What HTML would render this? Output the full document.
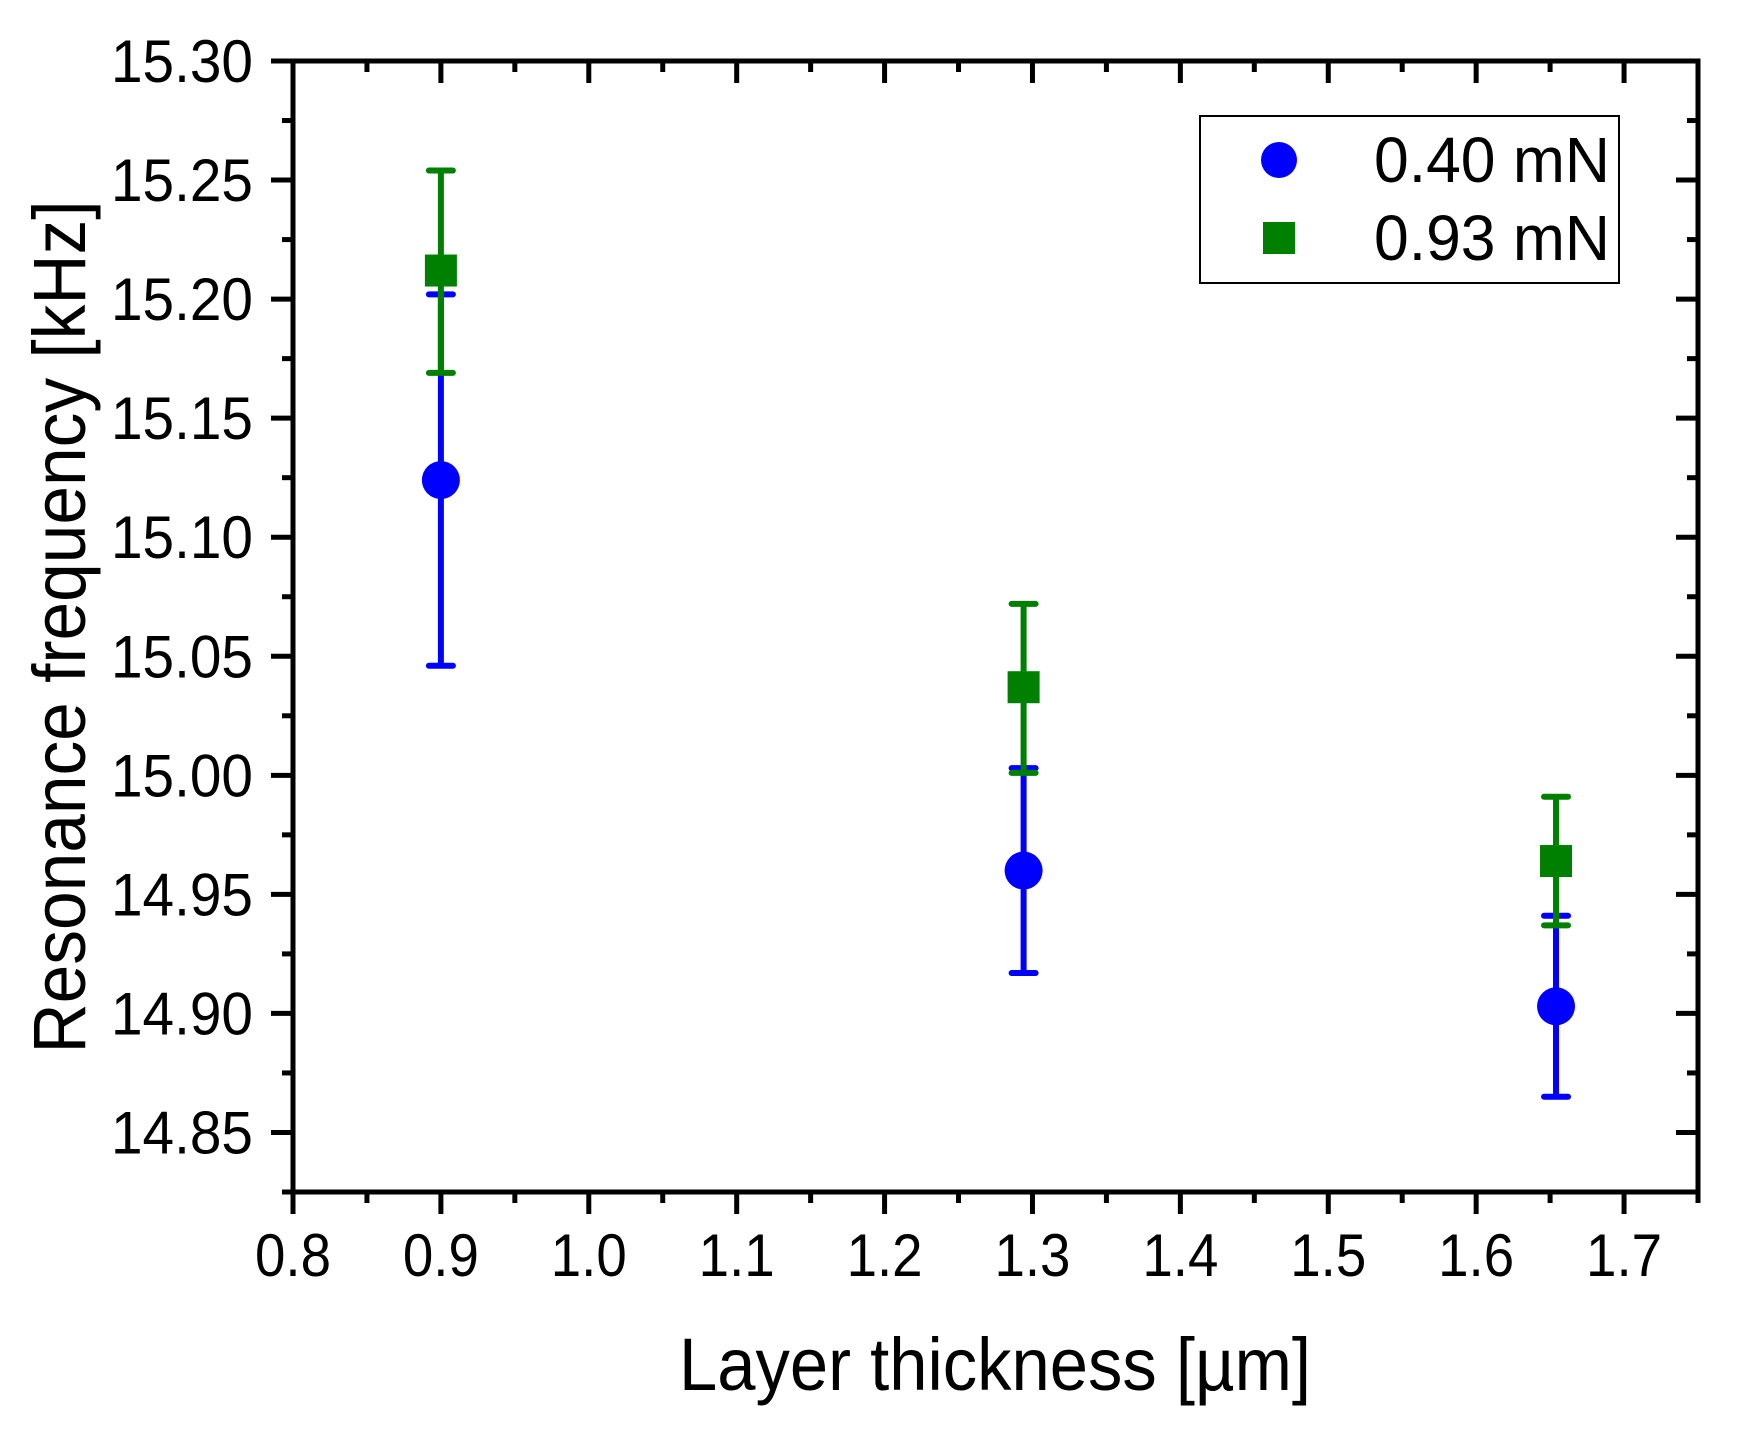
<!DOCTYPE html>
<html><head><meta charset="utf-8"><style>
html,body{margin:0;padding:0;background:#fff;}
svg{display:block;font-family:"Liberation Sans",Arial,sans-serif;}
</style></head><body>
<svg id="chart" width="1739" height="1437" viewBox="0 0 1739 1437" xmlns="http://www.w3.org/2000/svg">
<rect x="0" y="0" width="1739" height="1437" fill="#fff"/>
<g id="grid"></g>
<g id="marks"></g>
<text x="995" y="1390" font-size="74" text-anchor="middle" textLength="632" lengthAdjust="spacingAndGlyphs">Layer thickness [µm]</text>
<text transform="translate(85,627) rotate(-90)" font-size="74" text-anchor="middle" textLength="853" lengthAdjust="spacingAndGlyphs">Resonance frequency [kHz]</text>
<g>
<rect x="1200" y="116" width="419" height="167" fill="#fff" stroke="#000" stroke-width="2"/>
<circle cx="1279" cy="160" r="18" fill="#0000ff"/>
<text x="1374" y="182" font-size="64" textLength="236" lengthAdjust="spacingAndGlyphs">0.40 mN</text>
<rect x="1263" y="222" width="32" height="32" fill="#008000"/>
<text x="1374" y="260" font-size="64" textLength="236" lengthAdjust="spacingAndGlyphs">0.93 mN</text>
</g>
</svg>
<script>
const xCats = [0.9, 1.294, 1.654];
const blueVals = [15.124, 14.960, 14.903];
const blueHi = [15.202, 15.003, 14.941];
const blueLo = [15.046, 14.917, 14.865];
const greenVals = [15.212, 15.037, 14.964];
const greenHi = [15.254, 15.072, 14.991];
const greenLo = [15.169, 15.001, 14.937];
const xTicks = ["0.8","0.9","1.0","1.1","1.2","1.3","1.4","1.5","1.6","1.7"];
const yTicks = ["14.85","14.90","14.95","15.00","15.05","15.10","15.15","15.20","15.25","15.30"];

const X0=293, X1=1698, Y0=1192, Y1=61;
const xMin=0.8, xMax=1.75, yMin=14.825, yMax=15.30;
function sx(v){return X0+(v-xMin)/(xMax-xMin)*(X1-X0);}
function sy(v){return Y0-(v-yMin)/(yMax-yMin)*(Y0-Y1);}
const NS="http://www.w3.org/2000/svg";
function mk(tag,attrs,parent){const e=document.createElementNS(NS,tag);for(const k in attrs)e.setAttribute(k,attrs[k]);parent.appendChild(e);return e;}
const g=document.getElementById('grid');
const m=document.getElementById('marks');

let frame=mk('rect',{x:X0,y:Y1,width:X1-X0,height:Y0-Y1,fill:'none',stroke:'#000','stroke-width':5},g);



for(let i=0;i<xTicks.length;i++){
  const v=parseFloat(xTicks[i]);const x=sx(v);
  let t=mk('line',{x1:x,x2:x,y1:Y0,y2:Y0+22,stroke:'#000','stroke-width':5},g);
  
  
  let t2=mk('line',{x1:x,x2:x,y1:Y1,y2:Y1+22,stroke:'#000','stroke-width':5},g);
  
  
  const xm=sx(v+0.05);
  if(v+0.05<=xMax+1e-9){
    let a=mk('line',{x1:xm,x2:xm,y1:Y0,y2:Y0+11,stroke:'#000','stroke-width':5},g);
    
    
    let b=mk('line',{x1:xm,x2:xm,y1:Y1,y2:Y1+11,stroke:'#000','stroke-width':5},g);
    
    
  }
  let l=mk('text',{x:x,y:Y0+84,'font-size':60,'text-anchor':'middle',textLength:76,lengthAdjust:'spacingAndGlyphs'},g);
  l.textContent=xTicks[i];
  
  
}
for(let i=0;i<yTicks.length;i++){
  const v=parseFloat(yTicks[i]);const y=sy(v);
  let t=mk('line',{x1:X0-22,x2:X0,y1:y,y2:y,stroke:'#000','stroke-width':5},g);
  
  
  let t2=mk('line',{x1:X1-22,x2:X1,y1:y,y2:y,stroke:'#000','stroke-width':5},g);
  
  
  const ym=sy(v-0.025);
  let a=mk('line',{x1:X0-11,x2:X0,y1:ym,y2:ym,stroke:'#000','stroke-width':5},g);
  
  
  let b=mk('line',{x1:X1-11,x2:X1,y1:ym,y2:ym,stroke:'#000','stroke-width':5},g);
  
  
  let l=mk('text',{x:253,y:y+21,'font-size':60,'text-anchor':'end',textLength:142,lengthAdjust:'spacingAndGlyphs'},g);
  l.textContent=yTicks[i];
  
  
}
function errbar(x,lo,hi,col,name){
  const px=sx(x);
  let v=mk('line',{x1:px,x2:px,y1:sy(hi),y2:sy(lo),stroke:col,'stroke-width':6},m);
  
  
  for(const val of [hi,lo]){
    let c=mk('line',{x1:px-12,x2:px+12,y1:sy(val),y2:sy(val),stroke:col,'stroke-width':6,'stroke-linecap':'round'},m);
    
    
  }
}
for(let i=0;i<xCats.length;i++) errbar(xCats[i],blueLo[i],blueHi[i],'#0000ff','blue');
for(let i=0;i<xCats.length;i++) errbar(xCats[i],greenLo[i],greenHi[i],'#008000','green');
for(let i=0;i<xCats.length;i++){
  let c=mk('circle',{cx:sx(xCats[i]),cy:sy(blueVals[i]),r:19,fill:'#0000ff'},m);
  
  
}
for(let i=0;i<xCats.length;i++){
  let r=mk('rect',{x:sx(xCats[i])-16,y:sy(greenVals[i])-16,width:32,height:32,fill:'#008000'},m);
  
  
}
</script>
</body></html>
